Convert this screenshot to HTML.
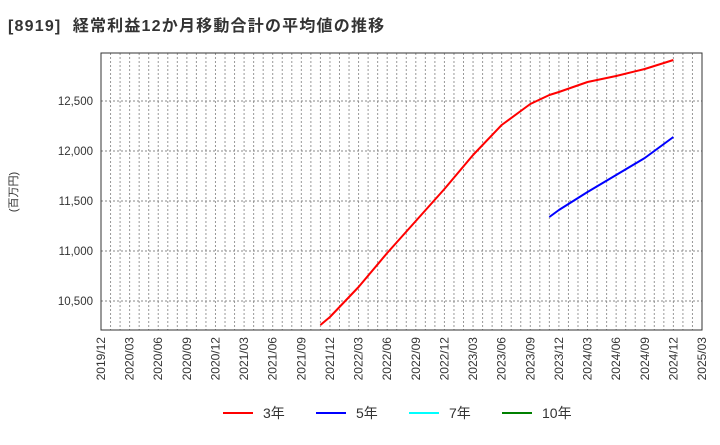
<!DOCTYPE html>
<html><head><meta charset="utf-8"><style>
body{margin:0;background:#fff;font-family:"Liberation Sans","Noto Sans CJK JP",sans-serif}
svg text{font-family:"Liberation Sans","Noto Sans CJK JP",sans-serif}
</style></head><body>
<svg width="720" height="440" xmlns="http://www.w3.org/2000/svg">
<text x="8" y="31" font-size="16" font-weight="bold" fill="#333" letter-spacing="1.2" xml:space="preserve">[8919]  経常利益12か月移動合計の平均値の推移</text>
<text transform="translate(17,192) rotate(-90)" text-anchor="middle" font-size="11" fill="#333">(百万円)</text>
<g id="grid"></g><g id="series"></g><g id="axes"></g>
<rect x="101" y="53" width="601" height="277" fill="none" stroke="#333" stroke-width="1"/>
<g>
<line x1="223" y1="413" x2="253" y2="413" stroke="#ff0000" stroke-width="2"/><text x="263" y="418" font-size="14" fill="#333">3年</text>
<line x1="316" y1="413" x2="346" y2="413" stroke="#0000ff" stroke-width="2"/><text x="356" y="418" font-size="14" fill="#333">5年</text>
<line x1="409" y1="413" x2="439" y2="413" stroke="#00ffff" stroke-width="2"/><text x="449" y="418" font-size="14" fill="#333">7年</text>
<line x1="502" y1="413" x2="532" y2="413" stroke="#008000" stroke-width="2"/><text x="542" y="418" font-size="14" fill="#333">10年</text>
</g>
</svg>
<script>
const xTickLabels=["2019/12","2020/03","2020/06","2020/09","2020/12","2021/03","2021/06","2021/09","2021/12","2022/03","2022/06","2022/09","2022/12","2023/03","2023/06","2023/09","2023/12","2024/03","2024/06","2024/09","2024/12","2025/03"];
const yTicks=[10500,11000,11500,12000,12500];
const yTickLabels=["10,500","11,000","11,500","12,000","12,500"];
// month index from 2019/12
const red3Months=[23,24,27,30,33,36,39,42,45,47,48,51,54,57,60];
const red3Values=[10260,10340,10640,10980,11300,11620,11960,12260,12470,12560,12590,12690,12750,12820,12910];
const blue5Months=[47,48,51,54,57,60];
const blue5Values=[11340,11410,11590,11760,11930,12140];
const L=101,R=702,T=53,B=330;
const xs=m=>L+(R-L)*m/63;
const ys=v=>B-(v-10210)*(B-T)/(12980-10210);
const NS="http://www.w3.org/2000/svg";
const grid=document.getElementById('grid'),axes=document.getElementById('axes'),ser=document.getElementById('series');
for(let m=1;m<63;m++){const l=document.createElementNS(NS,'line');


l.setAttribute('x1',xs(m));l.setAttribute('x2',xs(m));l.setAttribute('y1',T);l.setAttribute('y2',B);
l.setAttribute('stroke','#999');l.setAttribute('stroke-dasharray','2,2');grid.appendChild(l);}
yTicks.forEach((v,i)=>{const y=ys(v);const l=document.createElementNS(NS,'line');


l.setAttribute('x1',L);l.setAttribute('x2',R);l.setAttribute('y1',y);l.setAttribute('y2',y);
l.setAttribute('stroke','#888');l.setAttribute('stroke-dasharray','2,2');grid.appendChild(l);
const t=document.createElementNS(NS,'text');


t.setAttribute('x',93);t.setAttribute('y',y+4);t.setAttribute('text-anchor','end');t.setAttribute('font-size','11.5');t.setAttribute('fill','#333');t.textContent=yTickLabels[i];axes.appendChild(t);});
xTickLabels.forEach((s,i)=>{const x=xs(i*3);const t=document.createElementNS(NS,'text');


t.setAttribute('transform',`translate(${x+4},337) rotate(-90)`);t.setAttribute('text-anchor','end');t.setAttribute('font-size','12');t.setAttribute('fill','#333');t.textContent=s;axes.appendChild(t);});
function line(ms,vs,c,name){const p=document.createElementNS(NS,'polyline');


p.setAttribute('points',ms.map((m,i)=>xs(m)+','+ys(vs[i])).join(' '));
p.setAttribute('fill','none');p.setAttribute('stroke',c);p.setAttribute('stroke-width','2');p.setAttribute('stroke-linejoin','round');ser.appendChild(p);}
line(red3Months,red3Values,'#ff0000','series-3yr');
line(blue5Months,blue5Values,'#0000ff','series-5yr');
</script>
</body></html>
